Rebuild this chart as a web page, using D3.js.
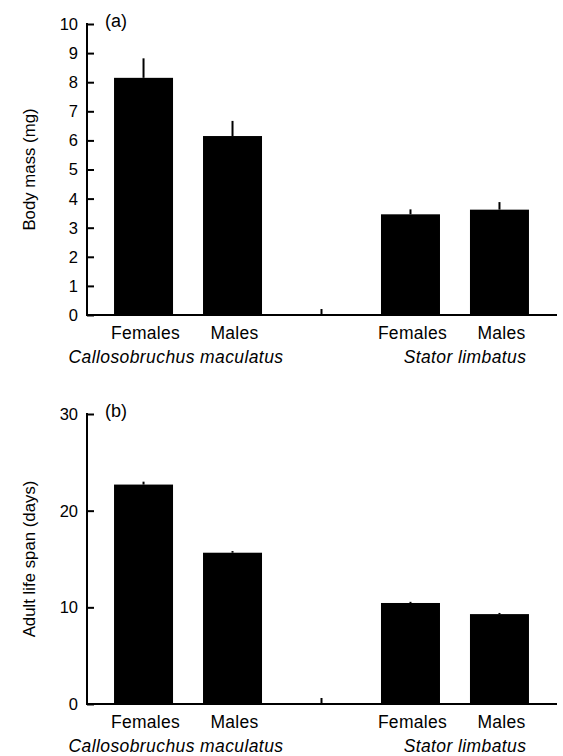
<!DOCTYPE html>
<html>
<head>
<meta charset="utf-8">
<script src="https://cdn.jsdelivr.net/npm/d3@7"></script>
<style>
  body { margin: 0; background: #fff; }
  text { font-family: "Liberation Sans", Arial, Helvetica, sans-serif; fill: #000; }
</style>
</head>
<body>
<svg width="563" height="756"></svg>
<script>
// slots along the x axis; "gap" holds the divider tick between species
let slots = ["cmF", "cmM", "gap", "slF", "slM"];
let sexLabels = ["Females", "Males", "", "Females", "Males"];
let species = ["Callosobruchus maculatus", "Stator limbatus"];

let massMean = [8.15, 6.15, null, 3.46, 3.62];
let massSE = [0.67, 0.52, null, 0.17, 0.26];
let lifeMean = [22.7, 15.65, null, 10.45, 9.3];
let lifeSE = [0.3, 0.17, null, 0.12, 0.12];

let massTicks = [0, 1, 2, 3, 4, 5, 6, 7, 8, 9, 10];
let lifeTicks = [0, 10, 20, 30];

let svg = d3.select("svg");

let x = d3.scaleBand()
    .domain(slots)
    .range([86, 557])
    .paddingInner(0.337)
    .paddingOuter(0.315);

let speciesX = [176, 465];

function panel(opts) {
    let y = d3.scaleLinear()
        .domain(opts.domain)
        .range([opts.bottom, opts.top]);

    let g = svg.append("g");

    // bars
    let rows = slots.map((s, i) => ({slot: s, mean: opts.mean[i], se: opts.se[i]}))
        .filter(d => d.mean != null);

    g.selectAll(".bar")
        .data(rows)
        .enter()
        .append("rect")
        .attr("x", d => x(d.slot))
        .attr("width", x.bandwidth())
        .attr("y", d => y(d.mean))
        .attr("height", d => y(0) - y(d.mean))
        .attr("fill", "#000");

    g.selectAll(".err")
        .data(rows)
        .enter()
        .append("line")
        .attr("x1", d => x(d.slot) + x.bandwidth() / 2)
        .attr("x2", d => x(d.slot) + x.bandwidth() / 2)
        .attr("y1", d => y(d.mean))
        .attr("y2", d => y(d.mean + d.se))
        .attr("stroke", "#000")
        .attr("stroke-width", 2);

    // y axis, ticks pointing inward
    let yAxis = d3.axisRight(y)
        .tickValues(opts.ticks)
        .tickSize(7)
        .tickFormat("");
    let ya = g.append("g")
        .attr("transform", "translate(87,0)")
        .call(yAxis);
    ya.select(".domain").remove();
    ya.selectAll(".tick line").attr("stroke-width", 2);
    ya.append("line")
        .attr("x1", 0).attr("x2", 0)
        .attr("y1", y(opts.domain[1]) - 1)
        .attr("y2", y(0) + 1)
        .attr("stroke", "#000")
        .attr("stroke-width", 2);

    g.selectAll(".ylab")
        .data(opts.ticks)
        .enter()
        .append("text")
        .attr("x", 78)
        .attr("y", d => y(d))
        .attr("dy", "0.36em")
        .attr("text-anchor", "end")
        .attr("font-size", 16.5)
        .text(d => d);

    // x axis
    g.append("line")
        .attr("x1", 86).attr("x2", 557)
        .attr("y1", y(0)).attr("y2", y(0))
        .attr("stroke", "#000")
        .attr("stroke-width", 2);

    g.append("line")
        .attr("x1", x("gap") + x.bandwidth() / 2)
        .attr("x2", x("gap") + x.bandwidth() / 2)
        .attr("y1", y(0))
        .attr("y2", y(0) - 6)
        .attr("stroke", "#000")
        .attr("stroke-width", 2);

    g.selectAll(".xlab")
        .data(slots.filter((s, i) => sexLabels[i]))
        .enter()
        .append("text")
        .attr("x", d => x(d) + x.bandwidth() / 2 + 2)
        .attr("y", y(0) + 24)
        .attr("text-anchor", "middle")
        .attr("font-size", 17.5)
        .attr("letter-spacing", 0.3)
        .text(d => sexLabels[slots.indexOf(d)]);

    g.selectAll(".sp")
        .data(species)
        .enter()
        .append("text")
        .attr("x", (d, i) => speciesX[i])
        .attr("y", y(0) + 48)
        .attr("text-anchor", "middle")
        .attr("font-size", 17.5)
        .attr("letter-spacing", 0.4)
        .attr("font-style", "italic")
        .text(d => d);

    g.append("text")
        .attr("transform", `translate(35,${(y(0) + y(opts.domain[1])) / 2}) rotate(-90)`)
        .attr("text-anchor", "middle")
        .attr("font-size", 16.8)
        .text(opts.ylabel);

    g.append("text")
        .attr("x", 105)
        .attr("y", y(opts.domain[1]) + 3)
        .attr("font-size", 18)
        .text(opts.tag);
}

panel({
    mean: massMean, se: massSE, domain: [0, 10], ticks: massTicks,
    top: 24, bottom: 315, ylabel: "Body mass (mg)", tag: "(a)"
});

panel({
    mean: lifeMean, se: lifeSE, domain: [0, 30], ticks: lifeTicks,
    top: 414, bottom: 704, ylabel: "Adult life span (days)", tag: "(b)"
});
</script>
</body>
</html>
